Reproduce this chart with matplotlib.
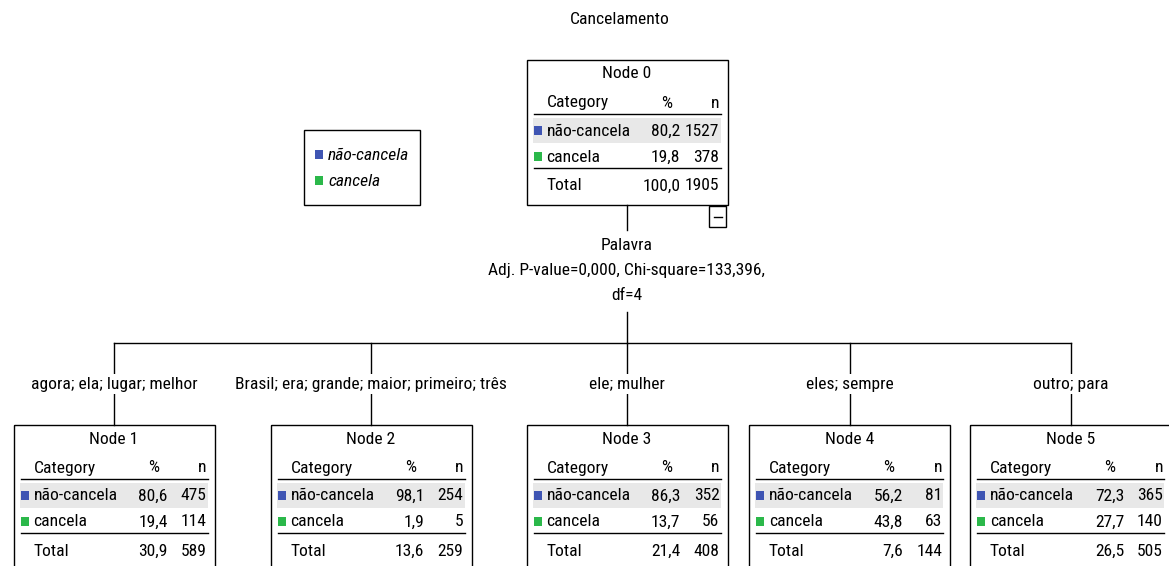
import matplotlib
matplotlib.use("Agg")
import matplotlib.pyplot as plt
from matplotlib.patches import Rectangle

# ---------------- data ----------------
title = "Cancelamento"
categories = ["não-cancela", "cancela"]
legend_labels = ["não-cancela", "cancela"]
node_names = ["Node 0", "Node 1", "Node 2", "Node 3", "Node 4", "Node 5"]
pct_nao = ["80,2", "80,6", "98,1", "86,3", "56,2", "72,3"]
pct_can = ["19,8", "19,4", "1,9", "13,7", "43,8", "27,7"]
n_nao = [1527, 475, 254, 352, 81, 365]
n_can = [378, 114, 5, 56, 63, 140]
pct_tot = ["100,0", "30,9", "13,6", "21,4", "7,6", "26,5"]
n_tot = [1905, 589, 259, 408, 144, 505]
split_var = "Palavra"
split_stats = ["Adj. P-value=0,000, Chi-square=133,396,", "df=4"]
branch_labels = ["agora; ela; lugar; melhor",
                 "Brasil; era; grande; maior; primeiro; três",
                 "ele; mulher", "eles; sempre", "outro; para"]

# ---------------- style ----------------
BLUE = "#3f55b3"
GREEN = "#2bb84a"
SHADE = "#e8e8e8"
FS = 12.6
plt.rcParams['font.family'] = ["Roboto Condensed", "Liberation Sans", "DejaVu Sans"]

W, H = 1169, 566
fig = plt.figure(figsize=(W / 100, H / 100), dpi=100)
ax = fig.add_axes([0, 0, 1, 1])
ax.set_xlim(0, W)
ax.set_ylim(H, 0)
ax.axis("off")

BOX_W, BOX_H = 201, 145
root_center = (627, 60)
child_centers = [114, 371, 627, 849.5, 1070.5]
child_top = 425


def draw_node(i, cx, top):
    left = cx - BOX_W / 2
    ax.add_patch(Rectangle((left, top), BOX_W, BOX_H, fill=False, lw=1.0,
                           edgecolor="black", zorder=3))
    ax.text(cx, top + 14, node_names[i], ha="center", va="center", fontsize=FS)
    xs_cat = left + 20
    xs_pct = left + 154
    xs_n = left + 193
    ax.text(xs_cat, top + 43, "Category", ha="left", va="center", fontsize=FS)
    ax.text(left + 140, top + 43, "%", ha="center", va="center", fontsize=FS)
    ax.text(xs_n, top + 43, "n", ha="right", va="center", fontsize=FS)
    ax.plot([left + 7, left + 194], [top + 54, top + 54], color="black", lw=1.0)
    ax.add_patch(Rectangle((left + 6, top + 58), 188, 25, color=SHADE, lw=0, zorder=0))
    rows = [(categories[0], pct_nao[i], n_nao[i], BLUE, top + 71),
            (categories[1], pct_can[i], n_can[i], GREEN, top + 97)]
    for lab, p, n, col, y in rows:
        ax.add_patch(Rectangle((left + 7, y - 5), 8, 9, color=col, lw=0, zorder=2))
        ax.text(xs_cat, y, lab, ha="left", va="center", fontsize=FS)
        ax.text(xs_pct, y, p, ha="right", va="center", fontsize=FS)
        ax.text(xs_n, y, str(n), ha="right", va="center", fontsize=FS)
    ax.plot([left + 7, left + 194], [top + 108, top + 108], color="black", lw=1.0)
    ax.text(xs_cat, top + 126, "Total", ha="left", va="center", fontsize=FS)
    ax.text(xs_pct, top + 126, pct_tot[i], ha="right", va="center", fontsize=FS)
    ax.text(xs_n, top + 126, str(n_tot[i]), ha="right", va="center", fontsize=FS)


# title
ax.text(620, 20, title, ha="center", va="center", fontsize=FS)

# root node
rcx, rtop = root_center
draw_node(0, rcx, rtop)
# collapse box
ax.add_patch(Rectangle((rcx + 82, rtop + BOX_H + 1), 17, 21, fill=False,
                       edgecolor="black", lw=1.0))
ax.plot([rcx + 86.5, rcx + 94.5], [rtop + BOX_H + 11.5] * 2, color="black", lw=1.0)

# split info
ax.plot([rcx, rcx], [rtop + BOX_H, 230], color="black", lw=1.0)
ax.text(rcx, 245, split_var, ha="center", va="center", fontsize=FS)
ax.text(rcx, 270, split_stats[0], ha="center", va="center", fontsize=FS)
ax.text(rcx, 296, split_stats[1], ha="center", va="center", fontsize=FS)
ax.plot([rcx, rcx], [312, 343], color="black", lw=1.0)
ax.plot([child_centers[0], child_centers[-1]], [343, 343], color="black", lw=1.0)

for k, cx in enumerate(child_centers):
    ax.plot([cx, cx], [343, child_top], color="black", lw=1.0, zorder=1)
    ax.text(cx, 384, branch_labels[k], ha="center", va="center", fontsize=FS, zorder=2,
            bbox=dict(facecolor="white", edgecolor="none", pad=1.5))
    draw_node(k + 1, cx, child_top)

# legend
ax.add_patch(Rectangle((304, 130), 116, 75, fill=False, edgecolor="black", lw=1.0))
for j, (lab, col) in enumerate(zip(legend_labels, [BLUE, GREEN])):
    y = 155 + 26 * j
    ax.add_patch(Rectangle((315, y - 5), 8, 9, color=col, lw=0))
    ax.text(328, y, lab, ha="left", va="center", fontsize=FS, style="italic")

fig.savefig("out.png", dpi=100)
